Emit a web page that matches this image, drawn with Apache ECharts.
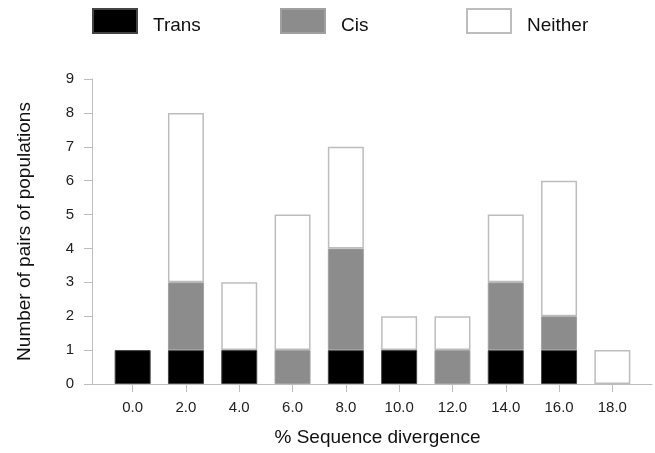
<!DOCTYPE html>
<html>
<head>
<meta charset="utf-8">
<script src="https://cdn.jsdelivr.net/npm/echarts@6/dist/echarts.min.js"></script>
<style>html,body{margin:0;padding:0;background:#fff;}#c{width:655px;height:453px;}</style>
</head>
<body>
<div id="c"></div>
<script>
const divergence = ['0.0', '2.0', '4.0', '6.0', '8.0', '10.0', '12.0', '14.0', '16.0', '18.0'];
const transCounts = [1, 1, 1, 0, 1, 1, 0, 1, 1, 0];
const cisCounts = [0, 2, 0, 1, 3, 0, 1, 2, 1, 0];
const neitherCounts = [0, 5, 2, 4, 3, 1, 1, 2, 4, 1];

const FONT = "'Liberation Sans', Arial, Helvetica, sans-serif";
const AXIS_GRAY = '#bdbdbd';
function vals(arr) { return arr.map(v => (v > 0 ? v : '-')); }
const chart = echarts.init(document.getElementById('c'));
function legendAt(name, left) {
  return {
    data: [name], left: left, top: 8, orient: 'horizontal', padding: 0,
    icon: 'rect', itemWidth: 44, itemHeight: 24, selectedMode: false,
    formatter: '{t|{name}}',
    textStyle: {
      fontFamily: FONT, fontSize: 19, color: '#111',
      rich: { t: { fontFamily: FONT, fontSize: 19, color: '#111', padding: [10, 0, 0, 11] } }
    }
  };
}
chart.setOption({
  animation: false,
  textStyle: { fontFamily: FONT },
  legend: [legendAt('Trans', 92), legendAt('Cis', 280), legendAt('Neither', 466)],
  grid: [
    { left: 106, right: 16, top: 79, bottom: 69, containLabel: false },
    { left: 92, right: 3, top: 79, bottom: 69, containLabel: false }
  ],
  xAxis: [
    {
      type: 'category', gridIndex: 0, data: divergence, boundaryGap: true,
      axisLine: { show: false },
      axisTick: { show: true, alignWithLabel: true, interval: 0, length: 8, lineStyle: { color: AXIS_GRAY } },
      axisLabel: { interval: 0, fontSize: 15, color: '#222', margin: 16, fontFamily: FONT },
      name: '% Sequence divergence', nameLocation: 'middle', nameGap: 44,
      nameTextStyle: { fontSize: 19, color: '#111', fontFamily: FONT, padding: [0, 0, 0, 10] }
    },
    {
      type: 'value', gridIndex: 1, min: 0, max: 1,
      axisLine: { show: true, onZero: false, lineStyle: { color: AXIS_GRAY, width: 1 } },
      axisTick: { show: false }, axisLabel: { show: false }, splitLine: { show: false }
    }
  ],
  yAxis: [
    {
      type: 'value', gridIndex: 0, min: 0, max: 9, interval: 1, offset: 14,
      splitLine: { show: false },
      axisLine: { show: true, onZero: false, lineStyle: { color: AXIS_GRAY, width: 1 } },
      axisTick: { show: true, length: 8, lineStyle: { color: AXIS_GRAY } },
      axisLabel: { fontSize: 15, color: '#222', margin: 18, fontFamily: FONT },
      name: 'Number of pairs of populations', nameLocation: 'middle', nameGap: 58,
      nameTextStyle: { fontSize: 19, color: '#111', fontFamily: FONT }
    },
    {
      type: 'value', gridIndex: 1, min: 0, max: 1, show: false
    }
  ],
  series: [
    { name: 'Trans', type: 'bar', stack: 'all', barWidth: 36, data: vals(transCounts),
      itemStyle: { color: '#000000', borderColor: '#444', borderWidth: 1 } },
    { name: 'Cis', type: 'bar', stack: 'all', barWidth: 36, data: vals(cisCounts),
      itemStyle: { color: '#8c8c8c', borderColor: '#a0a0a0', borderWidth: 1 } },
    { name: 'Neither', type: 'bar', stack: 'all', barWidth: 36, data: vals(neitherCounts),
      itemStyle: { color: '#ffffff', borderColor: AXIS_GRAY, borderWidth: 1.5 } }
  ]
});
</script>
</body>
</html>
